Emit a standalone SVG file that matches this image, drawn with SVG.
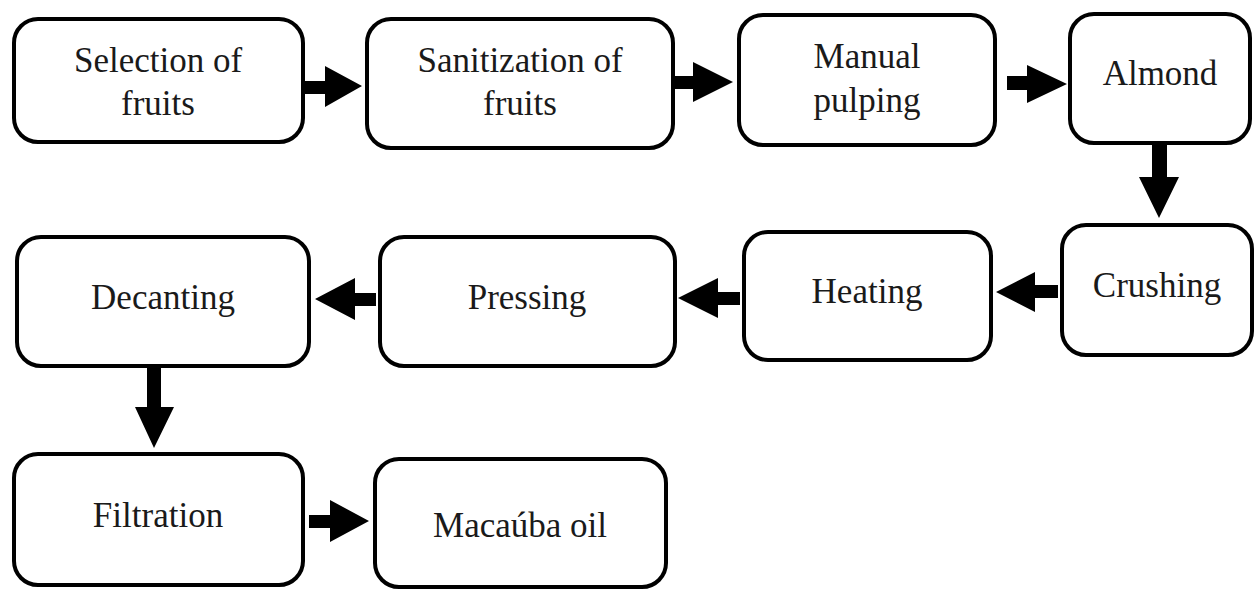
<svg xmlns="http://www.w3.org/2000/svg" width="1256" height="589" viewBox="0 0 1256 589">
<style>
.box{fill:#fff;stroke:#000;stroke-width:4}
.lbl{font-family:"Liberation Serif","Times New Roman",serif;font-size:35px;fill:#1a1a1a;text-anchor:middle}
.arr{fill:#000}
</style>
<rect width="1256" height="589" fill="#fff"/>
<g id="connectors">
<polygon class="arr" points="305,81 325,81 325,66 362,86 325,107 325,94 305,94"/>
<polygon class="arr" points="675,76 693,76 693,62 733,82 693,102 693,89 675,89"/>
<polygon class="arr" points="1007,76 1027,76 1027,65 1067,84 1027,103 1027,90 1007,90"/>
<polygon class="arr" points="1152,145 1167,145 1167,177 1179,177 1159,218 1139,177 1152,177"/>
<polygon class="arr" points="1058,285 1035,285 1035,272 996,292 1035,312 1035,298 1058,298"/>
<polygon class="arr" points="740,292 718,292 718,278 678,298 718,318 718,305 740,305"/>
<polygon class="arr" points="376,293 355,293 355,278 315,299 355,320 355,306 376,306"/>
<polygon class="arr" points="147,368 161,368 161,407 174,407 154,448 135,407 147,407"/>
<polygon class="arr" points="309,515 330,515 330,500 369,521 330,542 330,528 309,528"/>
</g>
<g id="n1"><rect class="box" x="14" y="19" width="289" height="123" rx="24"/><text class="lbl" x="158" y="72">Selection of</text><text class="lbl" x="158" y="115">fruits</text></g>
<g id="n2"><rect class="box" x="367" y="19" width="306" height="129" rx="24"/><text class="lbl" x="520" y="72">Sanitization of</text><text class="lbl" x="520" y="115">fruits</text></g>
<g id="n3"><rect class="box" x="739" y="15" width="256" height="130" rx="24"/><text class="lbl" x="867" y="68">Manual</text><text class="lbl" x="867" y="112">pulping</text></g>
<g id="n4"><rect class="box" x="1070" y="14" width="180" height="129" rx="24"/><text class="lbl" x="1160" y="85">Almond</text></g>
<g id="n5"><rect class="box" x="1062" y="225" width="190" height="130" rx="24"/><text class="lbl" x="1157" y="297">Crushing</text></g>
<g id="n6"><rect class="box" x="744" y="232" width="247" height="128" rx="24"/><text class="lbl" x="867" y="303">Heating</text></g>
<g id="n7"><rect class="box" x="380" y="237" width="295" height="129" rx="24"/><text class="lbl" x="527" y="309">Pressing</text></g>
<g id="n8"><rect class="box" x="17" y="237" width="292" height="129" rx="24"/><text class="lbl" x="163" y="309">Decanting</text></g>
<g id="n9"><rect class="box" x="14" y="454" width="289" height="131" rx="24"/><text class="lbl" x="158" y="527">Filtration</text></g>
<g id="n10"><rect class="box" x="375" y="459" width="291" height="128" rx="24"/><text class="lbl" x="520" y="537">Macaúba oil</text></g>
</svg>
